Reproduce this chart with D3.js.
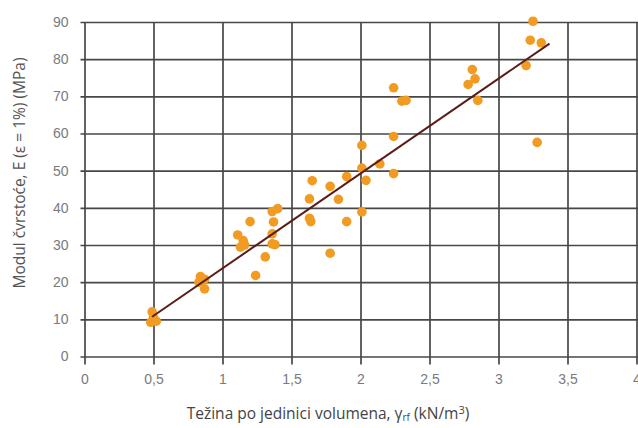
<!DOCTYPE html>
<html>
<head>
<meta charset="utf-8">
<script src="https://cdn.jsdelivr.net/npm/d3@7"></script>
<style>
    body { margin: 0; background: #fff; }
    svg { display: block; font-family: 'Open Sans', 'DejaVu Sans', sans-serif; }
</style>
</head>
<body>
<div id="chart"></div>
<script>
// Measured points (unit weight vs. modulus)
const xValues = [
    0.49, 0.50, 0.48, 0.52,
    0.84, 0.87, 0.83, 0.87,
    1.11, 1.15, 1.13, 1.16, 1.20, 1.24,
    1.31, 1.36, 1.36, 1.38, 1.37, 1.36, 1.40,
    1.63, 1.65, 1.63, 1.64, 1.78, 1.78, 1.84,
    1.90, 1.90, 2.01, 2.01, 2.04, 2.01, 2.14,
    2.24, 2.24, 2.24, 2.30, 2.33,
    2.78, 2.81, 2.83, 2.85,
    3.20, 3.23, 3.25, 3.31, 3.28
];
const yValues = [
    12.0, 10.5, 9.2, 9.5,
    21.5, 20.8, 20.0, 18.2,
    32.7, 31.2, 29.4, 30.0, 36.3, 21.8,
    26.8, 33.0, 30.3, 30.1, 36.2, 39.0, 39.8,
    42.4, 47.3, 37.2, 36.3, 45.8, 27.8, 42.3,
    48.4, 36.3, 56.8, 50.7, 47.4, 38.9, 51.8,
    72.3, 59.2, 49.2, 68.7, 68.9,
    73.2, 77.2, 74.7, 68.9,
    78.3, 85.1, 90.2, 84.4, 57.6
];

// Regression line end points
const trendX = [0.49, 3.37];
const trendY = [10.7, 84.2];

const xTicks = [0, 0.5, 1, 1.5, 2, 2.5, 3, 3.5, 4];
const yTicks = [0, 10, 20, 30, 40, 50, 60, 70, 80, 90];

const width = 638;
const height = 428;
const fmt = d => String(d).replace('.', ',');

const svg = d3.select('#chart')
  .append('svg')
    .attr('width', width)
    .attr('height', height);

const xScale = d3.scaleLinear().domain([0, 4]).range([84.5, 636.5]);
const yScale = d3.scaleLinear().domain([0, 90]).range([356.5, 22]);

const gridColor = '#474747';

const xAxis = d3.axisBottom(xScale)
    .tickValues(xTicks)
    .tickFormat(fmt)
    .tickSize(-(yScale(0) - yScale(90)))
    .tickSizeOuter(0);

const yAxis = d3.axisLeft(yScale)
    .tickValues(yTicks)
    .tickFormat(d => d)
    .tickSize(-(width - xScale(0)))
    .tickSizeOuter(0);

// horizontal grid lines, with small tick to the left
const yG = svg.append('g')
    .attr('transform', `translate(${xScale(0)},0)`)
    .call(yAxis);
yG.select('.domain').remove();
yG.selectAll('.tick line')
    .attr('x1', -4)
    .attr('stroke', gridColor)
    .attr('stroke-width', 1.7);
yG.selectAll('.tick text')
    .attr('x', -16)
    .attr('fill', '#7a7a7a')
    .style('font-size', '14px');

// vertical grid lines, reaching below the zero line
const xG = svg.append('g')
    .attr('transform', `translate(0,${yScale(0)})`)
    .call(xAxis);
xG.select('.domain').remove();
xG.selectAll('.tick line')
    .attr('y1', 8)
    .attr('stroke', gridColor)
    .attr('stroke-width', 1.7);
xG.selectAll('.tick text')
    .attr('y', 18)
    .attr('fill', '#7a7a7a')
    .style('font-size', '14px');

// points
const points = xValues.map((x, i) => ({x, y: yValues[i]}));
svg.append('g')
  .selectAll('circle')
    .data(points)
  .enter()
  .append('circle')
    .attr('cx', d => xScale(d.x))
    .attr('cy', d => yScale(d.y))
    .attr('r', 4.8)
    .attr('fill', '#f29b22');

// trend line
const line = d3.line()
    .x(d => xScale(d[0]))
    .y(d => yScale(d[1]));
svg.append('path')
    .datum(trendX.map((x, i) => [x, trendY[i]]))
    .attr('d', line)
    .attr('fill', 'none')
    .attr('stroke', '#5a1c16')
    .attr('stroke-width', 2);

// axis titles
svg.append('text')
    .attr('transform', 'translate(25,173) rotate(-90)')
    .attr('text-anchor', 'middle')
    .attr('fill', '#555')
    .style('font-size', '15.5px')
    .text('Modul čvrstoće, E (ε = 1%) (MPa)');

const xt = svg.append('text')
    .attr('x', 328)
    .attr('y', 419)
    .attr('text-anchor', 'middle')
    .attr('fill', '#444')
    .style('font-size', '15.5px');
xt.append('tspan').text('Težina po jedinici volumena, γ');
xt.append('tspan').attr('dy', 2).style('font-size', '10px').text('rf');
xt.append('tspan').attr('dy', -2).text(' (kN/m');
xt.append('tspan').attr('dy', -5).style('font-size', '11px').text('3');
xt.append('tspan').attr('dy', 5).text(')');
</script>
</body>
</html>
